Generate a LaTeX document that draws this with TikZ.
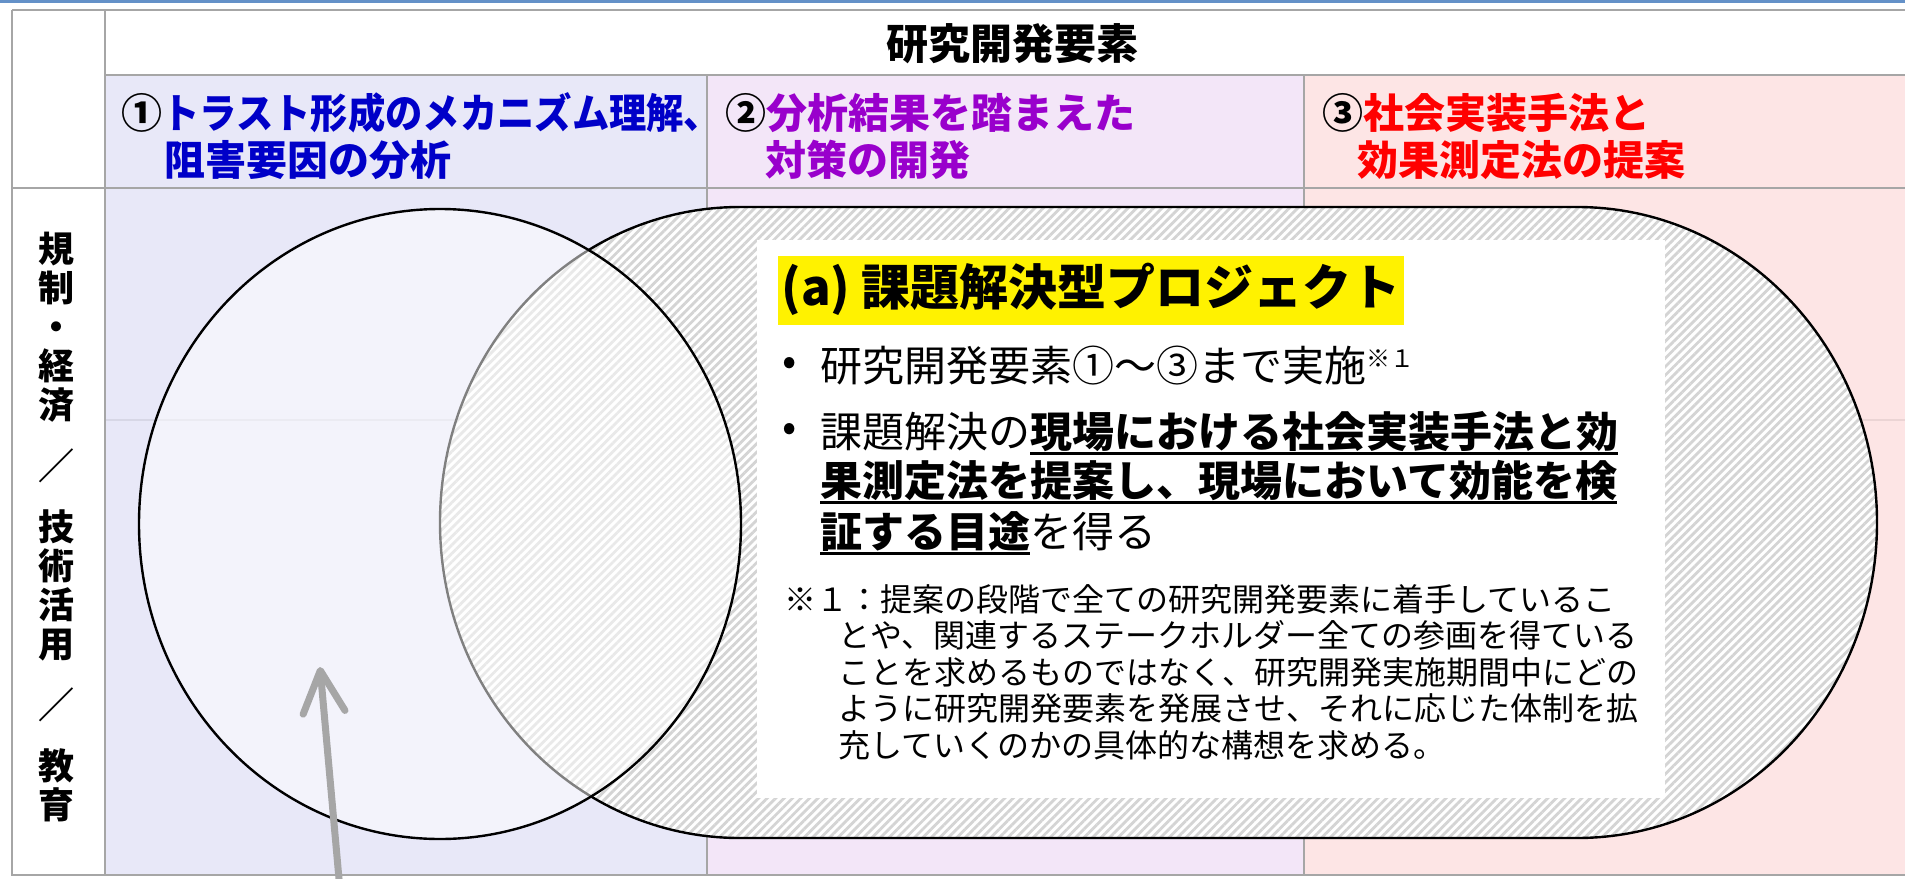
\documentclass[tikz,border=0pt]{standalone}
\usepackage{fontspec}
\setmainfont{Noto Sans CJK JP}
\newfontfamily\jpnarrow[FakeStretch=0.91]{Noto Sans CJK JP}
\usetikzlibrary{arrows.meta,patterns.meta}
\definecolor{gridc}{RGB}{166,166,166}
\definecolor{colA}{RGB}{232,232,248}
\definecolor{colB}{RGB}{243,230,248}
\definecolor{colC}{RGB}{253,229,229}
\definecolor{txA}{RGB}{0,0,200}
\definecolor{txB}{RGB}{153,0,204}
\definecolor{txC}{RGB}{255,0,0}
\definecolor{hatchc}{RGB}{212,212,212}
\definecolor{topblue}{RGB}{100,145,200}
\definecolor{arrowc}{RGB}{166,166,166}
\newcommand{\ulb}[1]{\setbox0\hbox{\bfseries #1}\rlap{\rule[-4pt]{\wd0}{1.4pt}}\box0}
\begin{document}
\begin{tikzpicture}[x=0.5pt,y=-0.5pt,
  gridline/.style={draw=gridc,line width=1.3pt},
  faintline/.style={draw=black,opacity=0.07,line width=1pt},
  hdr/.style={font=\bfseries\fontsize{21}{21}\selectfont,inner sep=0pt,anchor=base},
  subh/.style={font=\bfseries\fontsize{20.5}{20.5}\selectfont,inner sep=0pt,anchor=base west},
  vlabel/.style={font=\bfseries\fontsize{18}{19.5}\selectfont,inner sep=0pt,align=center},
  ttl/.style={fill=yellow,font=\bfseries\fontsize{24.5}{24.5}\selectfont,anchor=west,
    inner xsep=1.5pt,inner ysep=5pt,text height=20pt,text depth=4.5pt,minimum width=312.5pt},
  btxt/.style={font=\fontsize{21}{21}\selectfont,inner sep=0pt,anchor=base west},
  bul/.style={font=\fontsize{21}{21}\selectfont,inner sep=0pt},
  notet/.style={font=\fontsize{16}{16}\selectfont,inner sep=0pt,anchor=base west},
  stadium/.style={preaction={fill=white},pattern={Lines[angle=45,distance=3pt,line width=1.4pt]},
    pattern color=hatchc,draw=black,line width=1.2pt},
  leftell/.style={fill=white,fill opacity=0.5,draw=black,draw opacity=1,line width=1.2pt},
  uparrow/.style={draw=arrowc,line width=3.5pt,-{Straight Barb[length=21pt,width=21pt,round]}}
]
\useasboundingbox (0,0) rectangle (1905,878);
\clip (0,0) rectangle (1905,878);
\fill[white] (0,0) rectangle (1905,878);
\fill[topblue] (0,0) rectangle (1905,3);
% cell fills
\fill[colA] (105,75) rectangle (707,875);
\fill[colB] (707,75) rectangle (1304,875);
\fill[colC] (1304,75) rectangle (1905,875);
\draw[faintline] (105,420) -- (1905,420);
% grid
\draw[gridline] (12,10) -- (1905,10);
\draw[gridline] (12,10) -- (12,875) -- (1905,875);
\draw[gridline] (105,10) -- (105,875);
\draw[gridline] (105,75) -- (1905,75);
\draw[gridline] (12,188) -- (1905,188);
\draw[gridline] (707,75) -- (707,875);
\draw[gridline] (1304,75) -- (1304,875);
% header texts
\node[hdr] (hd) at (1012,59) {研究開発要素};
\node[subh,text=txA] (s1a) at (121,128) {{\color{black}①}{\jpnarrow トラスト形成のメカニズム理解、}};
\node[subh,text=txA] (s1b) at (164,175) {阻害要因の分析};
\node[subh,text=txB] (s2a) at (725,128) {{\color{black}②}分析結果を踏まえた};
\node[subh,text=txB] (s2b) at (765,175) {対策の開発};
\node[subh,text=txC] (s3a) at (1322,128) {{\color{black}③}社会実装手法と};
\node[subh,text=txC] (s3b) at (1357,175) {効果測定法の提案};
% vertical label
\node[vlabel] (vl) at (56,527) {規\\制\\・\\経\\済\\[11pt]／\\[11pt]技\\術\\活\\用\\[11pt]／\\[11pt]教\\育};
% shapes
\path[stadium] (740,207) -- (1577,207) arc[start angle=-90,end angle=90,x radius=300,y radius=315.5]
  -- (740,838) arc[start angle=90,end angle=270,x radius=300,y radius=315.5] -- cycle;
\fill[white] (757,240) rectangle (1665,798);
\path[leftell] (440,524) ellipse[x radius=301,y radius=315];
% arrow
\coordinate (arrtail) at (340,890);
\coordinate (arrtip) at (320,667);
\draw[uparrow] (arrtail) -- (arrtip);
% box texts
\node[ttl] (ttl) at (778,290) {(a) 課題解決型プロジェクト};
\node[bul] (b1) at (790,366) {•};
\node[btxt] (t1) at (820,381) {研究開発要素①～③まで実施\raisebox{7pt}{\fontsize{12}{12}\selectfont ※１}};
\node[bul] (b2) at (790,432) {•};
\node[btxt] (t2a) at (820,447) {課題解決の\ulb{現場における社会実装手法と効}};
\node[btxt] (t2b) at (820,496) {\ulb{果測定法を提案し、現場において効能を検}};
\node[btxt] (t2c) at (820,547) {\ulb{証する目途}を得る};
\node[notet] (n1) at (784,611) {※１：提案の段階で全ての研究開発要素に着手しているこ};
\node[notet] (n2) at (838,647.5) {とや、関連するステークホルダー全ての参画を得ている};
\node[notet] (n3) at (838,684) {ことを求めるものではなく、研究開発実施期間中にどの};
\node[notet] (n4) at (838,720.5) {ように研究開発要素を発展させ、それに応じた体制を拡};
\node[notet] (n5) at (838,757) {充していくのかの具体的な構想を求める。};
\end{tikzpicture}
\end{document}
